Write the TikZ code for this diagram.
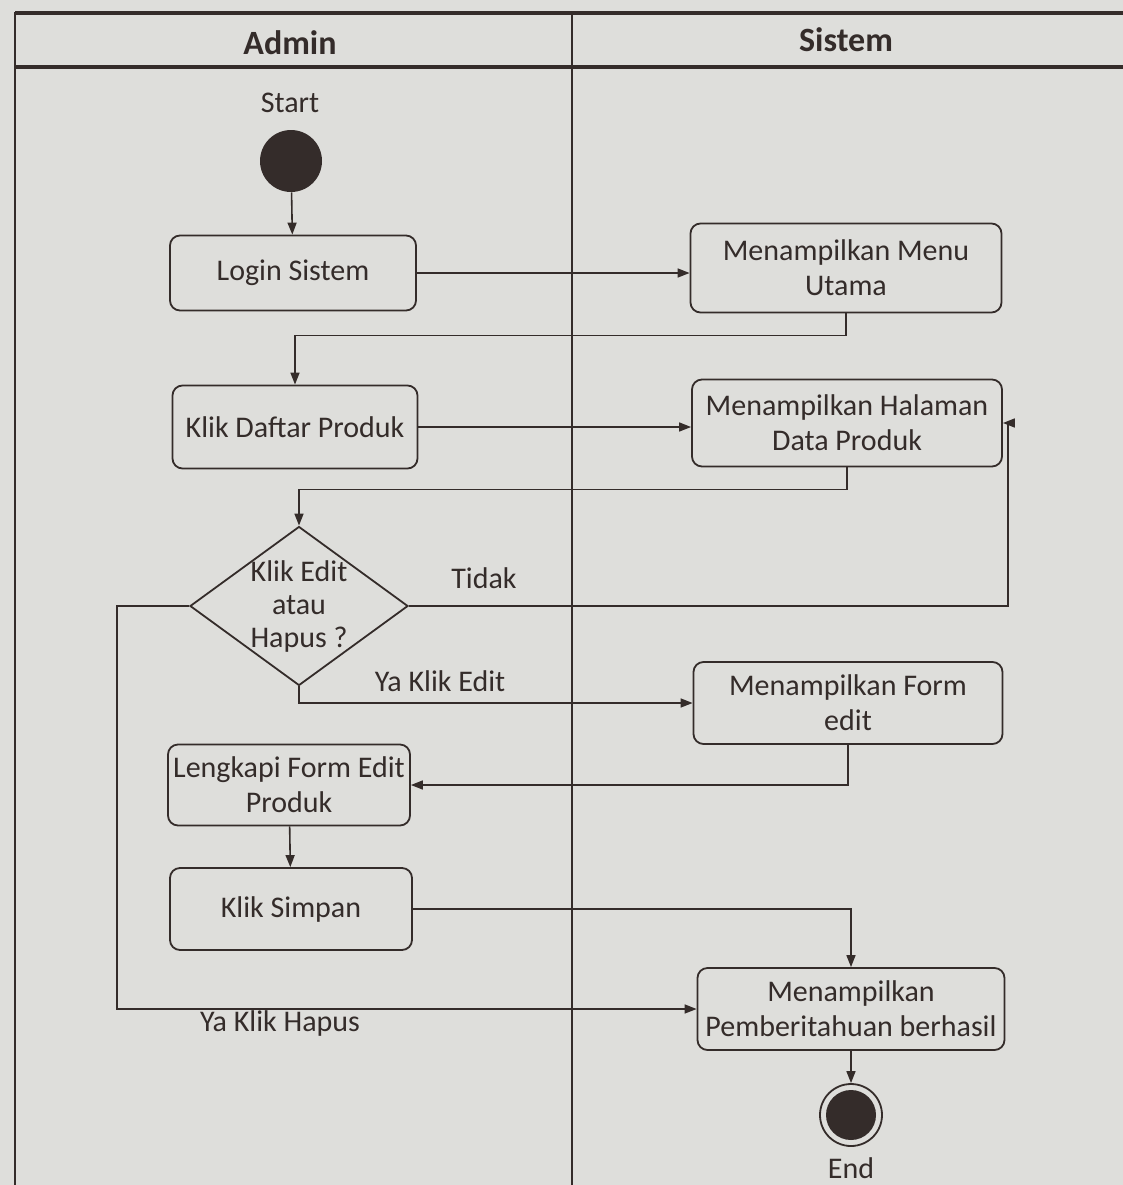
\documentclass[tikz,border=0pt]{standalone}
\usepackage{fontspec}
\setmainfont{Carlito}
\usetikzlibrary{shapes.geometric,arrows.meta}
\definecolor{ink}{RGB}{52,44,42}
\definecolor{paper}{RGB}{222,222,219}
\begin{document}
\begin{tikzpicture}[x=0.5pt,y=-0.5pt,
  font=\fontsize{15}{17.5}\selectfont,
  every node/.style={text=ink},
  act/.style={draw=ink, rounded corners=5pt, line width=0.9pt, align=center, inner sep=0pt},
  dec/.style={draw=ink, diamond, line width=0.9pt, inner sep=0pt, minimum width=109pt, minimum height=79.5pt},
  flow/.style={draw=ink, line width=0.8pt, -{Triangle[length=6pt,width=4.5pt]}},
  lane/.style={draw=ink, line width=1pt},
  lanehead/.style={draw=ink, line width=2pt},
  headtext/.style={font=\fontsize{17}{20}\selectfont\bfseries}
]
\fill[paper] (0,0) rectangle (1123,1185);
\useasboundingbox (0,0) rectangle (1123,1185);

% swimlanes
\draw[lanehead] (15,13) -- (1123,13);
\draw[lanehead] (15,67) -- (1123,67);
\draw[lane] (15,12) -- (15,1185);
\draw[lane] (572,13) -- (572,1185);
\node[headtext] (hadmin) at (290,43) {Admin};
\node[headtext] (hsistem) at (846,40) {Sistem};

% start and end
\node (startlbl) at (290,103) {Start};
\node[circle, fill=ink, minimum size=31pt, inner sep=0pt] (start) at (291,161) {};
\node[circle, draw=ink, line width=0.9pt, minimum size=31pt, inner sep=0pt] (end) at (851,1115) {};
\fill[ink] (end.center) circle (12.5pt);
\node (endlbl) at (851,1168) {End};

% activities
\node[act, minimum width=123pt, minimum height=37.5pt] (login) at (293,273) {Login Sistem};
\node[act, minimum width=155.5pt, minimum height=44.5pt] (menu) at (846,268) {Menampilkan Menu\\Utama};
\node[act, minimum width=122.5pt, minimum height=41.5pt] (daftar) at (295,427) {Klik Daftar Produk};
\node[act, minimum width=155pt, minimum height=43.5pt] (halaman) at (847,423) {Menampilkan Halaman\\Data Produk};
\node[dec] (dec) at (299,606) {};
\node[align=center, font=\fontsize{15}{16.5}\selectfont] (dectext) at (dec.center) {Klik Edit\\atau\\Hapus ?};
\node[act, minimum width=154.5pt, minimum height=41pt] (form) at (848,703) {Menampilkan Form\\edit};
\node[act, minimum width=121pt, minimum height=40.5pt] (lengkapi) at (289,785) {Lengkapi Form Edit\\Produk};
\node[act, minimum width=121pt, minimum height=41pt] (simpan) at (291,909) {Klik Simpan};
\node[act, minimum width=153.5pt, minimum height=41pt] (pemb) at (851,1009) {Menampilkan\\Pemberitahuan berhasil};

% guard labels
\node (tidak) at (484,578) {Tidak};
\node (yaedit) at (440,681) {Ya Klik Edit};
\node (yahapus) at (280,1023) {Ya Klik Hapus};

% connectors
\coordinate (tidakturn) at (1008,606);
\coordinate (hapusturn) at (117,606);
\draw[flow] (start) -- (login);
\draw[flow] (login.east) -- (login.east -| menu.west);
\draw[flow] (menu.south) -- ++(0,22) -| (daftar.north);
\draw[flow] (daftar.east) -- (daftar.east -| halaman.west);
\draw[flow] (halaman.south) -- ++(0,22) -| (dec.north);
\draw[flow] (dec.east) -- (tidakturn) |- (halaman.east);
\draw[flow] (dec.west) -- (hapusturn) |- (pemb.west);
\draw[flow] (dec.south) |- (form.west);
\draw[flow] (form.south) |- (lengkapi.east);
\draw[flow] (lengkapi) -- (simpan);
\draw[flow] (simpan.east) -| (pemb.north);
\draw[flow] (pemb) -- (end);
\end{tikzpicture}
\end{document}
